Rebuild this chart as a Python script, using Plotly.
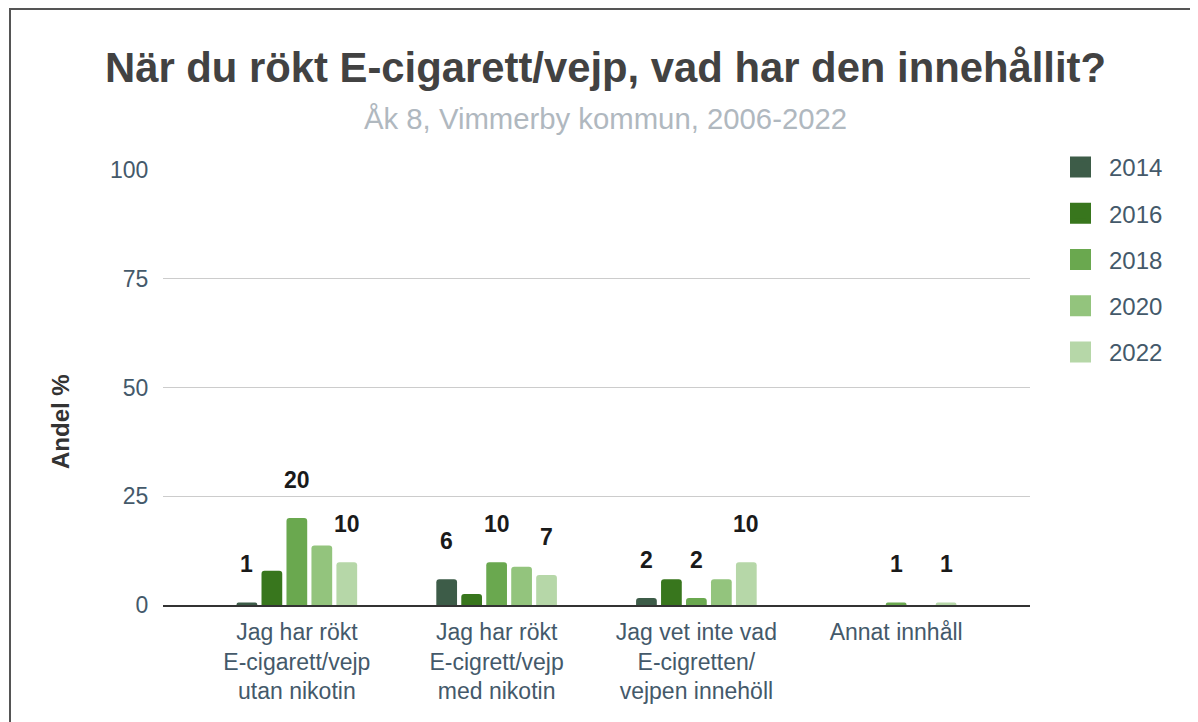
import plotly.graph_objects as go

categories = [
    "Jag har rökt<br>E-cigarett/vejp<br>utan nikotin",
    "Jag har rökt<br>E-cigrett/vejp<br>med nikotin",
    "Jag vet inte vad<br>E-cigretten/<br>vejpen innehöll",
    "Annat innhåll",
]
years = ["2014", "2016", "2018", "2020", "2022"]
v2014 = [0.6, 5.9, 1.6, None]
v2016 = [7.9, 2.5, 5.9, None]
v2018 = [20.0, 9.8, 1.6, 0.6]
v2020 = [13.7, 8.8, 5.9, None]
v2022 = [9.8, 6.9, 9.8, 0.6]
series = [v2014, v2016, v2018, v2020, v2022]
labelled_years = ["2014", "2018", "2022"]
colors = ["#3d5c48", "#38761d", "#6aa84f", "#93c47d", "#b6d7a8"]

# page has an 8px body margin, so figure coordinates = page coordinates - 8
OFF = 8
W, H = 1198 - OFF, 722 - OFF
L, R, T, B = 163 - OFF, 1030 - OFF, 170 - OFF, 605 - OFF
xr = [-0.67, 3.67]
font = "Liberation Sans, Arial, sans-serif"
txt = "#44596a"

fig = go.Figure()
for yr, vals, col in zip(years, series, colors):
    fig.add_trace(go.Bar(
        name=yr, x=categories, y=vals, marker=dict(color=col, line=dict(width=0)),
        showlegend=False, hoverinfo="x+y+name",
    ))
# legend entries (square swatches)
for yr, col in zip(years, colors):
    fig.add_trace(go.Scatter(
        name=yr, x=[None], y=[None], mode="markers",
        marker=dict(symbol="square", size=24, color=col, line=dict(color=col, width=5)),
        legendgroup=yr, hoverinfo="skip",
    ))

# data labels
px_per_unit = (R - L) / (xr[1] - xr[0])
bargap = 0.375
slot = (1 - bargap) / len(years)
for i, (yr, vals) in enumerate(zip(years, series)):
    if yr not in labelled_years:
        continue
    shift = (i - (len(years) - 1) / 2) * slot * px_per_unit
    for c, v in zip(categories, vals):
        if v is None:
            continue
        fig.add_annotation(
            x=c, y=v, xref="x", yref="y", text=f"<b>{v:.0f}</b>", showarrow=False,
            xanchor="center", yanchor="middle",
            xshift=shift, yshift=38, font=dict(family=font, size=23, color="#1a1a1a"),
        )

pw, ph = R - L, B - T
def px(x): return (x - OFF - L) / pw
def py(y): return (B - (y - OFF)) / ph

fig.add_annotation(x=px(605), y=py(68), xref="paper", yref="paper", showarrow=False,
                   xanchor="center", yanchor="middle",
                   text="<b>När du rökt E-cigarett/vejp, vad har den innehållit?</b>",
                   font=dict(family=font, size=41.8, color="#424242"))
fig.add_annotation(x=px(605), y=py(118), xref="paper", yref="paper", showarrow=False,
                   xanchor="center", yanchor="middle",
                   text="Åk 8, Vimmerby kommun, 2006-2022",
                   font=dict(family=font, size=29.3, color="#b0b8bf"))
fig.add_annotation(x=px(60), y=py(422), xref="paper", yref="paper", showarrow=False,
                   xanchor="center", yanchor="middle",
                   text="<b>Andel %</b>", textangle=-90,
                   font=dict(family=font, size=24, color="#333333"))
# frame
fig.add_shape(type="rect", xref="paper", yref="paper",
              x0=px(10), x1=px(1220), y0=py(740), y1=py(9),
              line=dict(color="#555555", width=2), fillcolor="rgba(0,0,0,0)")

fig.update_layout(
    width=W, height=H,
    margin=dict(l=L, r=W - R, t=T, b=H - B, pad=0),
    barmode="group", bargap=bargap, bargroupgap=0.17, barcornerradius=3,
    plot_bgcolor="white", paper_bgcolor="white",
    font=dict(family=font, color=txt),
    showlegend=True,
    legend=dict(x=px(1052), y=py(145), xanchor="left", yanchor="top",
                font=dict(family=font, size=24, color=txt), itemwidth=47,
                tracegroupgap=12, itemclick=False, itemdoubleclick=False),
    xaxis=dict(range=xr, showgrid=False, showline=True, linecolor="#333333", linewidth=2,
               tickfont=dict(family=font, size=23, color=txt),
               ticks="outside", ticklen=5, tickcolor="rgba(0,0,0,0)", fixedrange=True),
    yaxis=dict(range=[0, 100], tickvals=[0, 25, 50, 75, 100], showgrid=True,
               gridcolor="#cccccc", gridwidth=1, zeroline=False, showline=False,
               tickfont=dict(family=font, size=23, color=txt),
               ticks="outside", ticklen=9, tickcolor="rgba(0,0,0,0)", fixedrange=True),
)

fig.write_html("out.html")
